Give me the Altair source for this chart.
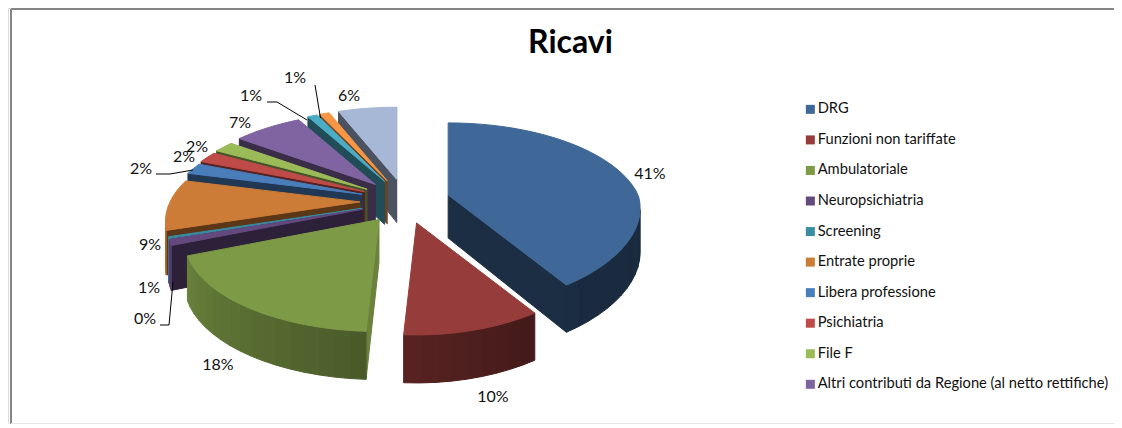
import math
import altair as alt
import pandas as pd

# ---- data ----
names = ["DRG", "Funzioni non tariffate", "Ambulatoriale", "Neuropsichiatria", "Screening",
         "Entrate proprie", "Libera professione", "Psichiatria", "File F",
         "Altri contributi da Regione (al netto rettifiche)", "Altro 1", "Altro 2", "Altro 3"]
shares = [41, 10, 18, 1, 0.3, 9, 2, 2, 2, 7, 1, 1, 6]
colors = ["#3F6797", "#963C3A", "#7D9A47", "#64497F", "#3A8CA3", "#CC7C36", "#4A7EBB",
          "#BE4B48", "#9BBB59", "#8064A2", "#4BACC6", "#F79646", "#A7B7D6"]
label_texts = ["41%", "10%", "18%", "1%", "0%", "9%", "2%", "2%", "2%", "7%", "1%", "1%", "6%"]

# ---- layout ----
label_x = [650, 493, 218, 149, 145, 150, 141, 184, 197, 240, 251, 295, 349]
label_y = [174, 397, 365, 288, 319, 245, 169, 157, 147, 123, 96, 78, 96]
leaders = {
    "0": [(160, 325), (169, 325), (173, 282)],
    "2": [(156, 174), (170, 174), (193, 170)],
    "1a": [(267, 102), (277, 102), (307, 120)],
    "1b": [(315, 85), (320.5, 118)],
}
CX, CY = 405, 201.3      # pie centre
EX, EY = 45, 22.4        # explosion distance
RX, RY, PERSP = 190, 87.7, 0.217   # radius and perspective
W, H = 1106, 416


def hex2rgb(h):
    return [int(h[i:i + 2], 16) for i in (1, 3, 5)]


def shade(h, f):
    return "#%02x%02x%02x" % tuple(min(255, int(c * f)) for c in hex2rgb(h))


def arc_factor(deg):
    return 0.42 + 0.43 * min(1, max(0, (deg - 140) / 110))


total = sum(shares)
wedges = []
start = 0.0
for n, s, c in zip(names, shares, colors):
    sweep = s / total * 360
    wedges.append((n, start, start + sweep, c))
    start += sweep
wedges.sort(key=lambda w: -math.cos(math.radians((w[1] + w[2]) / 2)))

rows = []
pid = 0


def add_poly(pts, col):
    global pid
    for k, (x, y) in enumerate(list(pts) + [pts[0]]):
        rows.append({"id": pid, "o": k, "x": x, "y": y, "col": col})
    pid += 1


def depth(v):
    return 43 - 5 * v


for n, a0, a1, col in wedges:
    mid = math.radians((a0 + a1) / 2)
    ax = CX + EX * math.sin(mid)
    ay = CY - EY * math.cos(mid)
    steps = max(2, int((a1 - a0) / 4) + 1)
    pts = [(ax, ay, 0.0, None)]
    for i in range(steps + 1):
        deg = a0 + (a1 - a0) * i / steps
        t = math.radians(deg)
        u, v = math.sin(t), math.cos(t)
        d = 1 + PERSP * v
        rx = RX + 14 * min(v, 0) if u > 0 else RX
        pts.append((ax + rx * u / d, ay - RY * v / d, v, deg))
    m = len(pts)
    for i in range(m):
        p, q = pts[i], pts[(i + 1) % m]
        ex, ey = q[0] - p[0], q[1] - p[1]
        nx, ny = ey, -ex
        if ny <= 0:
            continue
        if p[3] is not None and q[3] is not None:
            f = arc_factor((p[3] + q[3]) / 2)
        else:
            f = 0.85 if (ey > 3 * abs(ex) and i == 0) else 0.45
        add_poly([(p[0], p[1]), (q[0], q[1]), (q[0], q[1] + depth(q[2])), (p[0], p[1] + depth(p[2]))],
                 shade(col, f))
    add_poly([(p[0], p[1]) for p in pts], col)

df = pd.DataFrame(rows)
xs = alt.Scale(domain=[8, 8 + W], range=[0, W])
ys = alt.Scale(domain=[8, 8 + H], range=[0, H])
X = alt.X("x:Q", scale=xs, axis=None)
Y = alt.Y("y:Q", scale=ys, axis=None)

pie = alt.Chart(df).mark_line(strokeWidth=1, strokeJoin="round", clip=True).encode(
    x=X, y=Y, order="o:Q", detail="id:N",
    fill=alt.Fill("col:N", scale=None), stroke=alt.Stroke("col:N", scale=None))

frame_df = pd.DataFrame({"x": [11, 11], "y": [9, 9], "x2": [8 + W, 11], "y2": [9, 8 + H]})
frame = alt.Chart(frame_df).mark_rule(color="#868686", strokeWidth=2).encode(
    x=X, y=Y, x2="x2:Q", y2="y2:Q")
bottom_df = pd.DataFrame({"x": [11], "y": [8 + H - 0.5], "x2": [8 + W], "y2": [8 + H - 0.5]})
bottom = alt.Chart(bottom_df).mark_rule(color="#E6E6E6", strokeWidth=1).encode(
    x=X, y=Y, x2="x2:Q", y2="y2:Q")

lead_df = pd.DataFrame([{"id": k, "o": i, "x": p[0], "y": p[1]}
                        for k, v in leaders.items() for i, p in enumerate(v)])
lead = alt.Chart(lead_df).mark_line(color="#000000", strokeWidth=1).encode(
    x=X, y=Y, order="o:Q", detail="id:N")

lab_df = pd.DataFrame({"t": label_texts, "x": label_x, "y": label_y})
labels = alt.Chart(lab_df).mark_text(font="Lato", fontSize=16, color="#111111").encode(
    x=X, y=Y, text="t:N")

title_df = pd.DataFrame({"t": ["Ricavi"], "x": [570.5], "y": [43]})
title = alt.Chart(title_df).mark_text(font="Lato", fontSize=32, fontWeight="bold", color="#000000").encode(
    x=X, y=Y, text="t:N")

leg_names = names[:10]
leg_df = pd.DataFrame({"name": leg_names, "x": [500] * 10, "y": [200] * 10})
legend = alt.Chart(leg_df).mark_square(size=0, opacity=1).encode(
    x=X, y=Y,
    color=alt.Color("name:N", sort=leg_names,
                    scale=alt.Scale(domain=leg_names, range=colors[:10]),
                    legend=alt.Legend(orient="none", legendX=793, legendY=94, title=None,
                                      symbolType="square", symbolSize=81, symbolStrokeWidth=0,
                                      symbolOpacity=1, symbolOffset=2,
                                      labelFont="Lato", labelFontSize=14.7, labelColor="#111111",
                                      labelLimit=400, labelOffset=0, rowPadding=14.55, padding=0)))

chart = alt.layer(frame, bottom, pie, lead, labels, title, legend).resolve_scale(
    fill="independent", stroke="independent", color="independent"
).properties(width=W, height=H, padding=0, autosize=alt.AutoSizeParams(type="none")
).configure_view(stroke=None).configure(background="#FFFFFF")

chart.save("out.html", embed_options={"renderer": "svg", "actions": False})
